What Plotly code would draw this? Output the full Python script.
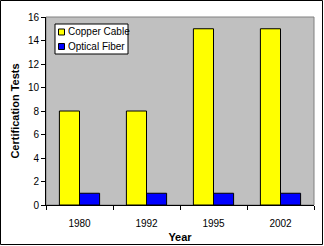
import plotly.graph_objects as go

years = ["1980", "1992", "1995", "2002"]
copper = [8, 8, 15, 15]
optical = [1, 1, 1, 1]
series_names = ["Copper Cable", "Optical Fiber"]
series_colors = ["#FFFF00", "#0000FF"]

W, H = 324, 246
L, R, T, B = 46, 10, 17, 41
pw, ph = W - L - R, H - T - B

def px2x(p):
    return (p - L) / pw

def py2y(p):
    return (H - B - p) / ph

fig = go.Figure()
for name, vals, col in zip(series_names, [copper, optical], series_colors):
    fig.add_trace(go.Bar(name=name, x=years, y=vals, showlegend=False,
                         marker=dict(color=col, line=dict(color="black", width=1))))

font = "Liberation Sans, Arial, sans-serif"

shapes = [
    dict(type="rect", xref="x domain", yref="y domain", x0=0, x1=1, y0=0, y1=1,
         line=dict(color="#808080", width=1), fillcolor="rgba(0,0,0,0)", layer="below"),
    dict(type="rect", xref="paper", yref="paper",
         x0=px2x(0.5), x1=px2x(322.5), y0=py2y(244.5), y1=py2y(0.5),
         line=dict(color="black", width=1), fillcolor="rgba(0,0,0,0)", layer="below"),
    # legend box
    dict(type="rect", xref="paper", yref="paper",
         x0=px2x(55), x1=px2x(128), y0=py2y(54), y1=py2y(24),
         line=dict(color="black", width=1), fillcolor="white", layer="above"),
]
annotations = []
for i, (name, col) in enumerate(zip(series_names, series_colors)):
    cy = 32 + i * 14.5
    shapes.append(dict(type="rect", xref="paper", yref="paper",
                       x0=px2x(58.5), x1=px2x(64.5), y0=py2y(cy + 3), y1=py2y(cy - 3),
                       line=dict(color="black", width=1), fillcolor=col, layer="above"))
    annotations.append(dict(text=name, xref="paper", yref="paper",
                            x=px2x(66.5), y=py2y(cy), xanchor="left", yanchor="middle",
                            showarrow=False, font=dict(size=10), borderpad=0))

fig.update_layout(
    width=W, height=H,
    margin=dict(l=L, r=R, t=T, b=B, pad=0, autoexpand=False),
    paper_bgcolor="white", plot_bgcolor="#C0C0C0",
    barmode="group", bargap=0.4, bargroupgap=0,
    font=dict(family=font, size=10, color="black"),
    xaxis=dict(showline=True, linecolor="black", linewidth=1, automargin=False,
               ticks="outside", tickson="boundaries", ticklen=4, tickcolor="black",
               showgrid=False, tickfont=dict(size=10), ticklabelstandoff=9,
               title=dict(text="<b>Year</b>", font=dict(size=11), standoff=5)),
    yaxis=dict(range=[0, 16], dtick=2, showline=True, linecolor="black", linewidth=1,
               automargin=False,
               ticks="outside", ticklen=4, tickcolor="black", showgrid=False,
               zeroline=False, tickfont=dict(size=10),
               title=dict(text="<b>Certification Tests</b>", font=dict(size=11), standoff=6)),
    shapes=shapes,
    annotations=annotations,
)

fig.write_html("out.html")
